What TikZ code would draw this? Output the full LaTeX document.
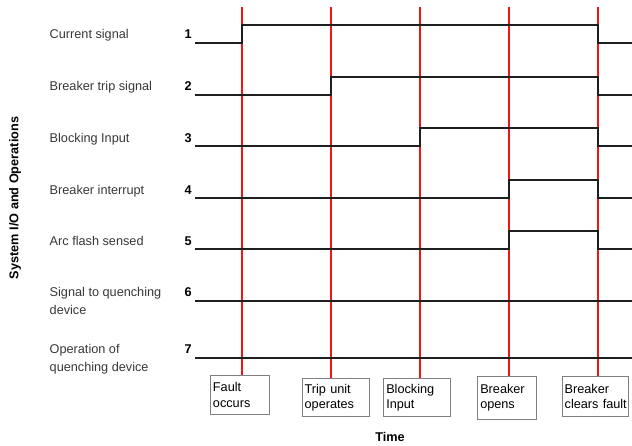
\documentclass[tikz,border=0pt]{standalone}
\usepackage{fontspec}
\setmainfont{Liberation Sans}
\definecolor{labelgray}{RGB}{55,55,55}
\definecolor{sigblack}{RGB}{30,30,30}
\definecolor{markred}{RGB}{240,20,20}
\definecolor{boxgray}{RGB}{128,128,128}
% one signal trace: low level #1, rising at x=#2, falling at the fault clearing
\newcommand\pulsesig[2]{%
  \draw[sig] (195,#1) -- (#2,#1) -- (#2,#1-18) -- (598,#1-18) -- (598,#1) -- (632,#1);}
\newcommand\flatsig[1]{\draw[sig] (195,#1) -- (632,#1);}
\begin{document}
\begin{tikzpicture}[x=1pt,y=-1pt,
  lbl/.style={font=\fontsize{12.7}{18}\selectfont, text=labelgray, inner sep=0,
              anchor=base west, align=left},
  num/.style={font=\fontsize{12.7}{15.3}\selectfont\bfseries, inner sep=0, anchor=base east},
  axislbl/.style={font=\fontsize{12.7}{15.3}\selectfont\bfseries, inner sep=0},
  sig/.style={line width=1.9pt, draw=sigblack},
  marker/.style={line width=1.1pt, draw=markred},
  evbox/.style={draw=boxgray, line width=0.9pt, fill=white, inner xsep=2.5pt, inner ysep=0,
                align=left, anchor=north west, font=\fontsize{12.7}{15.3}\selectfont}]
\useasboundingbox (0,0) rectangle (632,446);

% event times (top ends of the red markers)
\coordinate (t1) at (242,7);
\coordinate (t2) at (331,7);
\coordinate (t3) at (420,7);
\coordinate (t4) at (509,7);
\coordinate (t5) at (598,7);

% event boxes
\node[evbox, text width=53.7pt, minimum height=39.3pt] (fault)  at (210,375)   {Fault\\occurs};
\node[evbox, text width=62.6pt, minimum height=37.7pt] (trip)   at (301.7,378.3) {Trip unit\\operates};
\node[evbox, text width=61.4pt, minimum height=37.7pt] (block)  at (383.3,378.3) {Blocking\\Input};
\node[evbox, text width=53.7pt, minimum height=43pt]   (opens)  at (477.3,376) {Breaker\\opens};
\node[evbox, text width=61pt,   minimum height=40pt]   (clears) at (561.7,376) {Breaker\\clears~fault};

% red event markers
\draw[marker] (t1) -- (t1 |- fault.north);
\draw[marker] (t2) -- (t2 |- trip.north);
\draw[marker] (t3) -- (t3 |- block.north);
\draw[marker] (t4) -- (t4 |- opens.north);
\draw[marker] (t5) -- (t5 |- clears.north);

% signal traces
\pulsesig{42.7}{242}
\pulsesig{94.7}{331}
\pulsesig{146.3}{420}
\pulsesig{198}{509}
\pulsesig{249}{509}
\flatsig{300.7}
\flatsig{357.7}

% row numbers
\node[num] (n1) at (192,38.9)  {1};
\node[num] (n2) at (192,90.9)  {2};
\node[num] (n3) at (192,142.5) {3};
\node[num] (n4) at (192,194.2) {4};
\node[num] (n5) at (192,245.2) {5};
\node[num] (n6) at (192,296.9) {6};
\node[num] (n7) at (192,353.9) {7};

% row labels (a two-line label sits on the baseline of its last line)
\node[lbl] (l1) at (49.5,38.9)  {Current signal};
\node[lbl] (l2) at (49.5,90.9)  {Breaker trip signal};
\node[lbl] (l3) at (49.5,142.5) {Blocking Input};
\node[lbl] (l4) at (49.5,194.2) {Breaker interrupt};
\node[lbl] (l5) at (49.5,245.2) {Arc flash sensed};
\node[lbl] (l6) at (49.5,314.9) {Signal to quenching\\device};
\node[lbl] (l7) at (49.5,371.9) {Operation of\\quenching device};

% axis titles
\node[axislbl, rotate=90] (yaxis) at (15,198) {System I/O and Operations};
\node[axislbl] (xaxis) at (390,436.7) {Time};
\end{tikzpicture}
\end{document}
